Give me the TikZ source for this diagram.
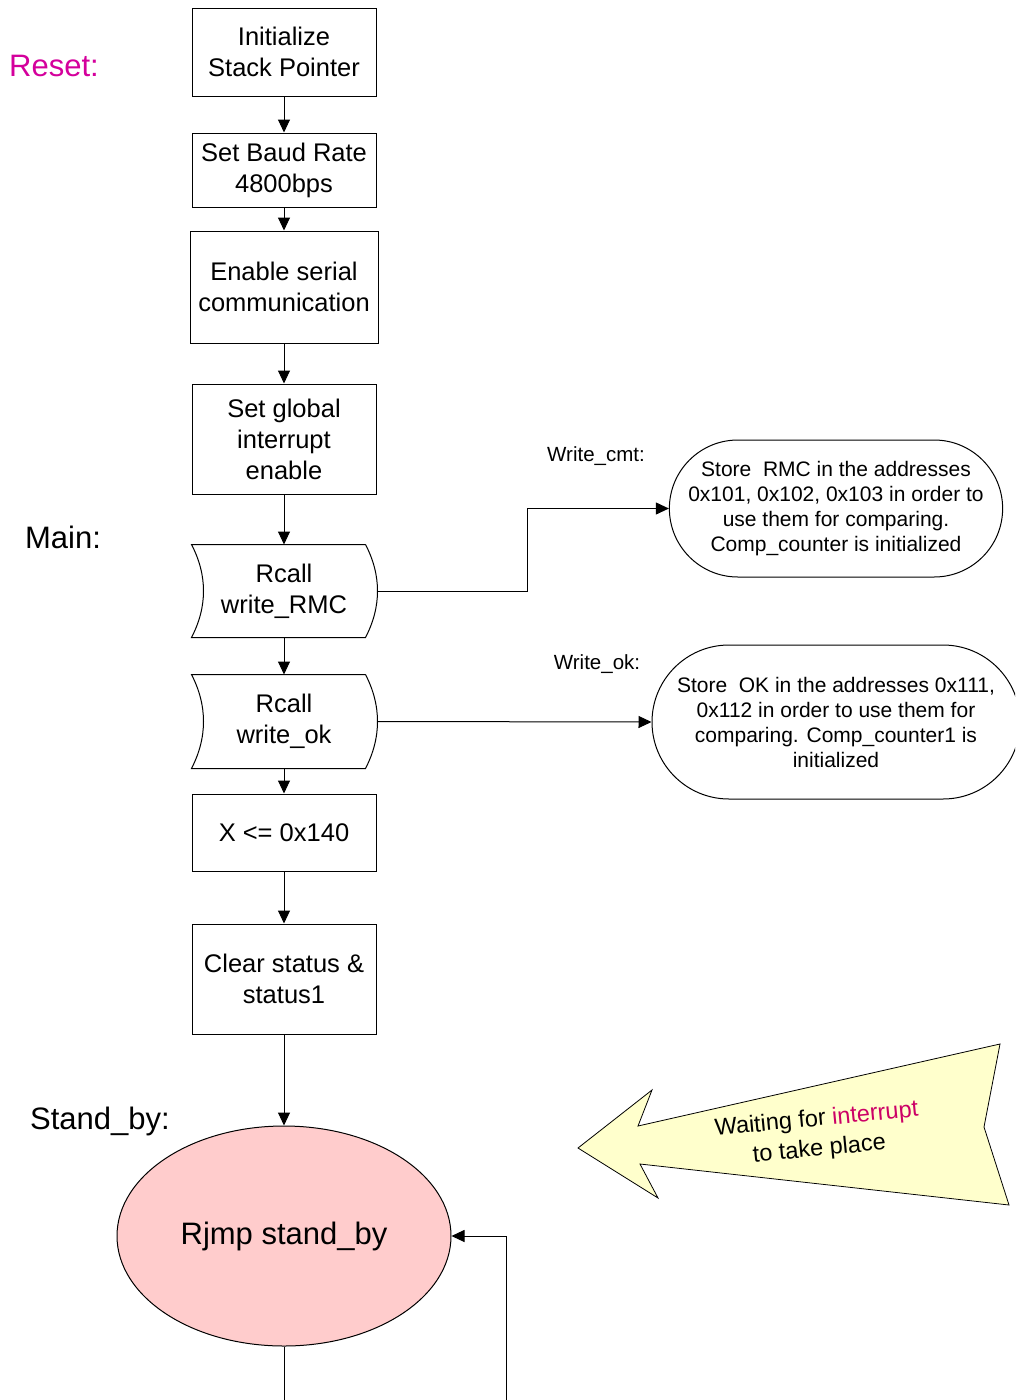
\documentclass[tikz,border=0pt]{standalone}
\usepackage{fontspec}
\setmainfont{Liberation Sans}
\usetikzlibrary{arrows.meta,shapes.misc,shapes.geometric,calc}
\definecolor{labelmag}{HTML}{D4009C}
\definecolor{intmag}{HTML}{CC0066}
\definecolor{notefill}{HTML}{FFFFCC}
\definecolor{standbyfill}{HTML}{FFCCCC}
\begin{document}
\begin{tikzpicture}[x=1pt,y=-1pt,
  line width=1pt,
  stepbox/.style={draw, rectangle, inner sep=0pt, align=center,
    font=\fontsize{25.5}{31}\selectfont},
  callbox/.style={rectangle, inner sep=0pt, align=center,
    minimum width=184pt, font=\fontsize{25.5}{31}\selectfont},
  termbox/.style={draw, rounded rectangle, inner sep=0pt, align=center,
    font=\fontsize{21}{25}\selectfont},
  tag/.style={inner sep=0pt, font=\fontsize{31}{36}\selectfont},
  smalltag/.style={inner sep=0pt, font=\fontsize{20.5}{24}\selectfont},
  arr/.style={-{Triangle[length=13pt,width=12pt]}},
]
\clip (0,0) rectangle (1015,1400);

% main flow
\node[stepbox, minimum width=184pt, minimum height=88pt] (init) at (284,52) {Initialize\\Stack Pointer};
\node[stepbox, minimum width=184pt, minimum height=74pt] (baud) at (284,170) {Set Baud Rate\\4800bps};
\node[stepbox, minimum width=188pt, minimum height=112pt] (serial) at (284,287) {Enable serial\\communication};
\node[stepbox, minimum width=184pt, minimum height=110pt] (gie) at (284,439) {Set global\\interrupt\\enable};
\node[callbox, minimum height=92pt] (rmc) at (284,591) {Rcall\\write\_RMC};
\node[callbox, minimum height=93pt] (ok) at (284,721.5) {Rcall\\write\_ok};
\node[stepbox, minimum width=184pt, minimum height=77pt] (xreg) at (284,832.5) {X <= 0x140};
\node[stepbox, minimum width=184pt, minimum height=110pt] (clr) at (284,979) {Clear status \&\\status1};
\node[draw, ellipse, fill=standbyfill, inner sep=0pt, minimum width=334pt, minimum height=220pt,
  font=\fontsize{31}{36}\selectfont] (sb) at (284,1236) {Rjmp stand\_by};

% subroutine-call outlines: both sides are arcs bowing to the right
\foreach \n in {rmc,ok}{
  \draw ($(\n.north east)+(-11,0)$) -- (\n.north west)
    .. controls ($(\n.north west)!0.33!(\n.south west)+(16,0)$)
       and ($(\n.north west)!0.67!(\n.south west)+(16,0)$) .. (\n.south west)
    -- ($(\n.south east)+(-11,0)$)
    .. controls ($(\n.south east)!0.33!(\n.north east)+(5,0)$)
       and ($(\n.south east)!0.67!(\n.north east)+(5,0)$) .. ($(\n.north east)+(-11,0)$);
}

% subroutines
\node[termbox, minimum width=330pt, minimum height=137pt] (t1) at (836,508.5)
  {Store~ RMC in the addresses\\0x101, 0x102, 0x103 in order to\\use them for comparing.\\Comp\_counter is initialized};
\node[termbox, minimum width=368pt, minimum height=154pt] (t2) at (836,722)
  {Store~ OK in the addresses 0x111,\\0x112 in order to use them for\\comparing. Comp\_counter1 is\\initialized};

% labels
\node[tag, text=labelmag] (lreset) at (54,66) {Reset:};
\node[tag] (lmain) at (63,537) {Main:};
\node[tag] (lsb) at (100,1121) {Stand\_by:};
\node[smalltag] (lcmt) at (596,456) {Write\_cmt:};
\node[smalltag] (lok) at (597,664) {Write\_ok:};

% connectors
\draw[arr] (init) -- (baud);
\draw[arr] (baud) -- (serial);
\draw[arr] (serial) -- (gie);
\draw[arr] (gie) -- (rmc);
\draw[arr] (rmc) -- (ok);
\draw[arr] (ok) -- (xreg);
\draw[arr] (xreg) -- (clr);
\draw[arr] (clr) -- (sb);
\coordinate (bend) at (527,0);
\draw[arr] ($(rmc.east)+(1,0)$) -- (rmc.east -| bend) |- (t1.west);
\draw[arr] ($(ok.east)+(1,0)$) -- (t2.west);
\coordinate (sbout) at (284,1400);
\coordinate (loopin) at (506,1400);
\draw (sb.south) -- (sbout);
\draw[arr] (loopin) |- (sb.east);

% waiting note arrow
\draw[line width=0.8pt, fill=notefill]
  (578,1148) -- (652,1090) -- (638,1126) -- (1000,1044) -- (984,1127)
  -- (1009,1205) -- (640,1164) -- (658,1198) -- cycle;
\node[inner sep=0pt, align=center, rotate=5.5, font=\fontsize{23.5}{30}\selectfont] (wait) at (818,1135)
  {Waiting for \textcolor{intmag}{interrupt}\\to take place};
\end{tikzpicture}
\end{document}
